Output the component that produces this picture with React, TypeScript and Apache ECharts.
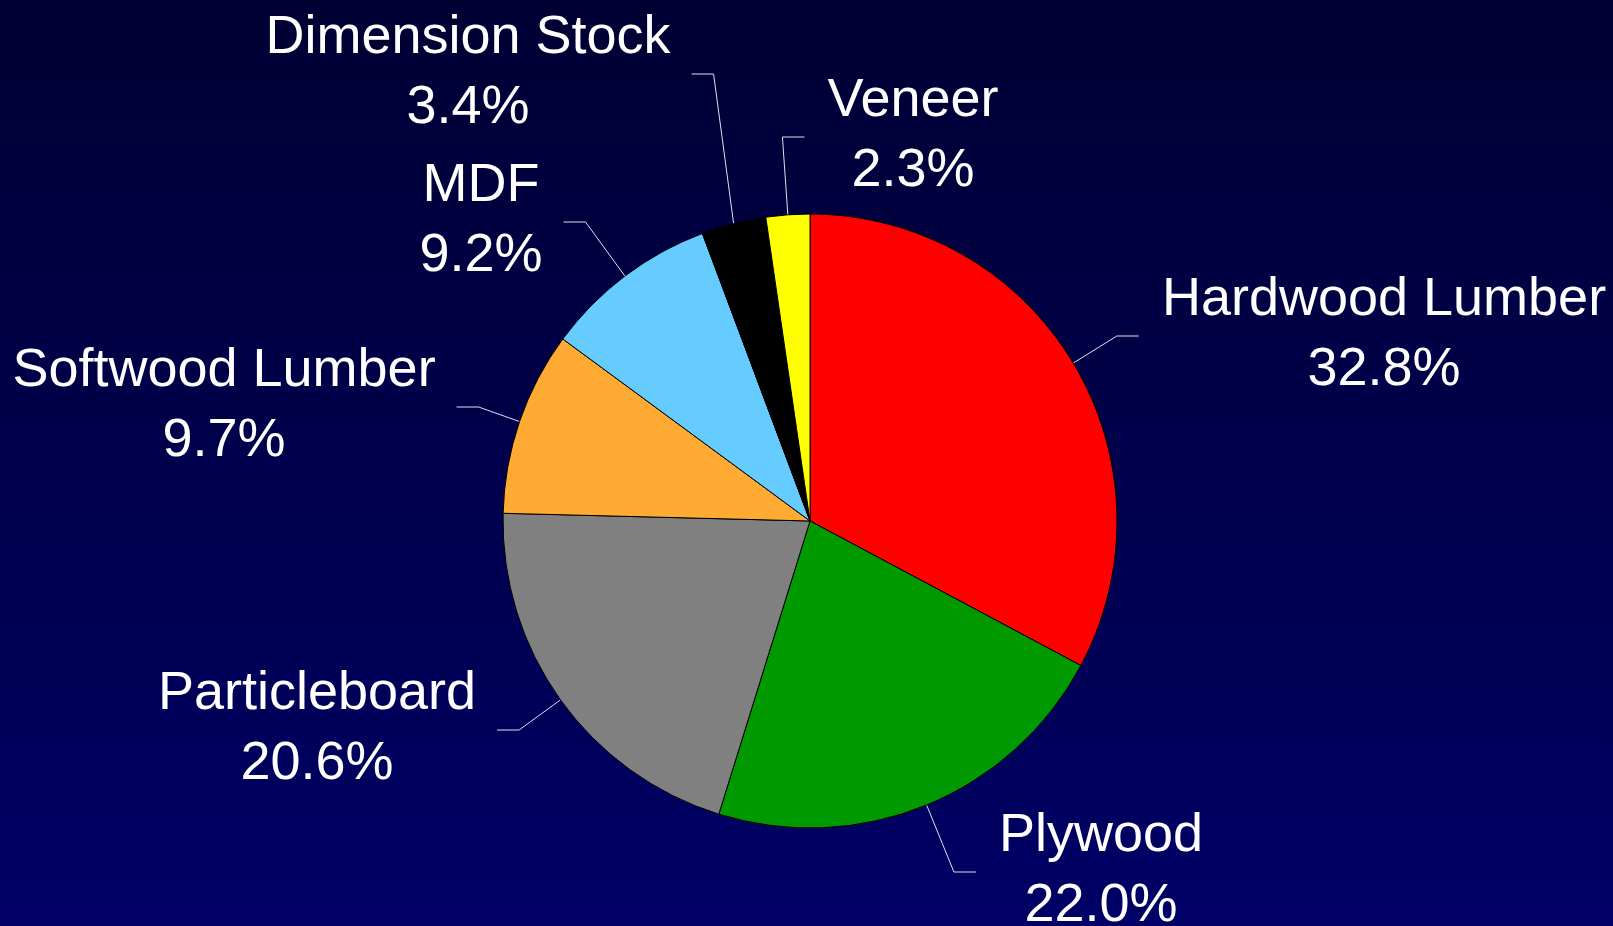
import React, { useEffect, useRef } from "react";
import * as echarts from "echarts";

const categories = [
  "Hardwood Lumber",
  "Plywood",
  "Particleboard",
  "Softwood Lumber",
  "MDF",
  "Dimension Stock",
  "Veneer",
];
const values = [32.8, 22.0, 20.6, 9.7, 9.2, 3.4, 2.3];
const colors = ["#FF0000", "#009900", "#808080", "#FFAA33", "#66CCFF", "#000000", "#FFFF00"];

// label block centers (layout) and the side the leader line comes from
const labelCenters: [number, number, "left" | "right"][] = [
  [1384, 331, "left"],
  [1101, 867, "left"],
  [317, 725, "right"],
  [224, 402, "right"],
  [481, 217, "right"],
  [468, 69, "right"],
  [913, 132, "left"],
];

const CX = 810;
const CY = 521;
const R = 307;

export default function App() {
  const ref = useRef<HTMLDivElement>(null);
  useEffect(() => {
    if (!ref.current) return;
    const chart = echarts.init(ref.current, undefined, { renderer: "svg" });
    const total = values.reduce((a, b) => a + b, 0);
    chart.setOption({
      animation: false,
      backgroundColor: "transparent",
      series: [
        {
          type: "pie",
          center: [CX, CY],
          radius: [0, R],
          startAngle: 90,
          clockwise: true,
          avoidLabelOverlap: false,
          data: categories.map((name, i) => ({
            name,
            value: values[i],
            itemStyle: { color: colors[i] },
          })),
          itemStyle: { borderColor: "#000", borderWidth: 1 },
          label: {
            show: true,
            position: "outside",
            formatter: (p: any) => `${p.name}\n${p.value.toFixed(1)}%`,
            color: "#ffffff",
            fontFamily: "Liberation Sans, Arial, sans-serif",
            fontSize: 54,
            lineHeight: 70,
            align: "center",
          },
          labelLine: {
            show: true,
            length: 20,
            length2: 20,
            lineStyle: { color: "#e0e0ee", width: 1 },
          },
          emphasis: { disabled: true },
          labelLayout: (params: any) => {
            const i = params.dataIndex;
            const [lx, ly, side] = labelCenters[i];
            const w = params.labelRect ? params.labelRect.width : 300;
            let p0: number[];
            if (params.labelLinePoints && params.labelLinePoints[0]) {
              p0 = params.labelLinePoints[0];
            } else {
              let cum = 0;
              for (let k = 0; k < i; k++) cum += values[k];
              const mid = ((cum + values[i] / 2) / total) * Math.PI * 2;
              p0 = [CX + R * Math.sin(mid), CY - R * Math.cos(mid)];
            }
            const yLine = ly + 5;
            let end: number[];
            let elbow: number[];
            if (side === "left") {
              const edge = lx - w / 2;
              end = [edge - 23, yLine];
              elbow = [edge - 45, yLine];
            } else {
              const edge = lx + w / 2;
              end = [edge + 21, yLine];
              elbow = [edge + 43, yLine];
            }
            return {
              x: lx,
              y: ly,
              align: "center",
              verticalAlign: "middle",
              labelLinePoints: [p0, elbow, end],
            };
          },
        },
      ],
    });
    return () => chart.dispose();
  }, []);
  return (
    <div
      ref={ref}
      style={{
        position: "fixed",
        left: 0,
        top: 0,
        width: 1613,
        height: 926,
        background: "linear-gradient(to bottom, #000033 0%, #000066 100%)",
      }}
    />
  );
}
